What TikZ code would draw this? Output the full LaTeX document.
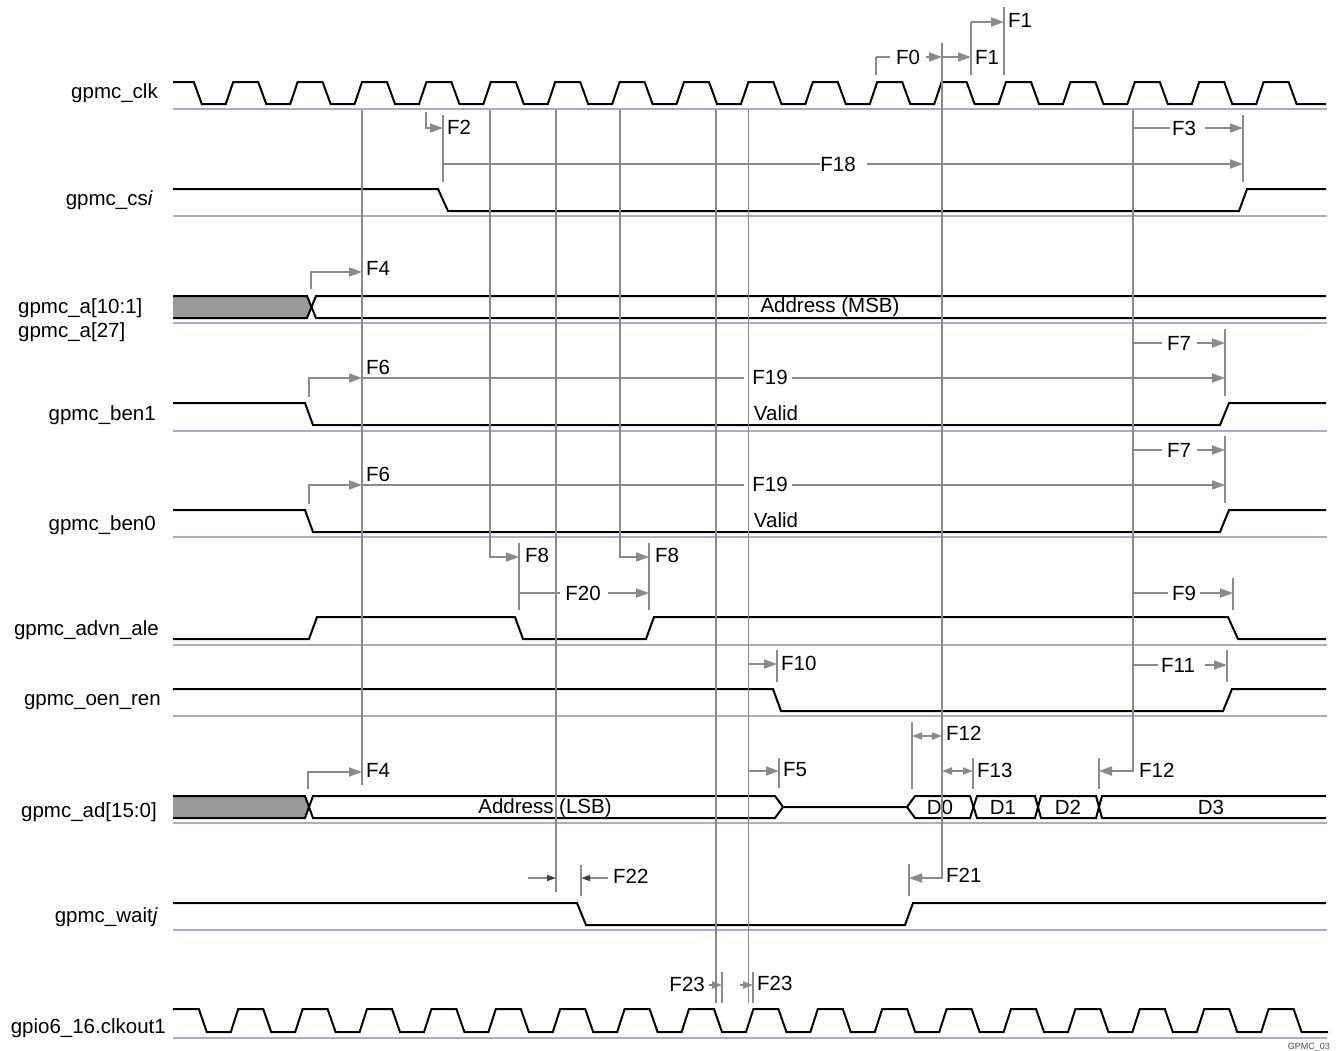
\documentclass[tikz,border=0pt]{standalone}
\usepackage{fontspec}
\setmainfont{Liberation Sans}
\usetikzlibrary{arrows.meta}
\definecolor{anncol}{HTML}{8A8A8A}
\definecolor{gridcol}{HTML}{A9ACC4}
\definecolor{busgray}{HTML}{999999}
\begin{document}
\begin{tikzpicture}[x=1pt,y=-1pt,
  sig/.style={line width=2pt,black},
  gridline/.style={line width=2pt,gridcol},
  ann/.style={line width=1.8pt,anncol},
  arr/.style={-{Triangle[length=13pt,width=9pt]}},
  arrs/.style={-{Triangle[length=10pt,width=7pt]}},
  darr/.style={{Triangle[length=10pt,width=7pt]}-{Triangle[length=10pt,width=7pt]}},
  karr/.style={-{Triangle[length=9pt,width=6pt,color=black!75]}},
  lbl/.style={inner sep=0pt,font=\fontsize{20.5}{24}\selectfont},
  sml/.style={inner sep=0pt,font=\fontsize{9}{10}\selectfont,text=black!70}]
\useasboundingbox (0,0) rectangle (1338,1050);
\fill[white] (0,0) rectangle (1338,1050);

% ---------- baselines ----------
\foreach \y in {109,216,323,431,537,645,716,823,930,1038}
  \draw[gridline] (173,\y) -- (1327,\y);

% ---------- left labels ----------
\node[lbl,anchor=east] (lclk) at (158,93) {gpmc\_clk};
\node[lbl,anchor=east] (lcs) at (153,200) {gpmc\_cs\textit{i}};
\node[lbl,anchor=west] (la1) at (18,308) {gpmc\_a[10:1]};
\node[lbl,anchor=west] (la2) at (18,332) {gpmc\_a[27]};
\node[lbl,anchor=east] (lben1) at (156,415) {gpmc\_ben1};
\node[lbl,anchor=east] (lben0) at (156,525) {gpmc\_ben0};
\node[lbl,anchor=east] (ladv) at (159,630) {gpmc\_advn\_ale};
\node[lbl,anchor=east] (loen) at (161,702) {gpmc\_oen\_ren};
\node[lbl,anchor=east] (lad) at (157,812) {gpmc\_ad[15:0]};
\node[lbl,anchor=east] (lwait) at (158,917) {gpmc\_wait\textit{j}};
\node[lbl,anchor=east] (lclkout) at (166,1028) {gpio6\_16.clkout1};

% ---------- clocks ----------
\draw[sig] (173,82) foreach \k in {-3,...,13}{
  -- ({362+64.4*\k+25},82) -- ({362+64.4*\k+33},104)
  -- ({362+64.4*\k+57},104) -- ({362+64.4*(\k+1)},82) }
  -- (1288.6,82) -- (1296.6,104) -- (1326,104);
\draw[sig] (173,1009) foreach \k in {-3,...,13}{
  -- ({367+64.4*\k+25},1009) -- ({367+64.4*\k+33},1032)
  -- ({367+64.4*\k+57},1032) -- ({367+64.4*(\k+1)},1009) }
  -- (1293.6,1009) -- (1301.6,1032) -- (1328,1032);

% ---------- single signals ----------
\draw[sig] (173,189) -- (438,189) -- (448,211) -- (1239,211) -- (1247,189) -- (1326,189);
\draw[sig] (173,403) -- (305,403) -- (313,425) -- (1220,425) -- (1229,403) -- (1326,403);
\draw[sig] (173,510) -- (305,510) -- (313,532) -- (1220,532) -- (1229,510) -- (1326,510);
\draw[sig] (173,639) -- (309,639) -- (317,617) -- (515,617) -- (523,639) -- (646,639) -- (654,617) -- (1228,617) -- (1238,639) -- (1326,639);
\draw[sig] (173,689) -- (773,689) -- (781,711) -- (1223,711) -- (1232,689) -- (1326,689);
\draw[sig] (173,903) -- (577,903) -- (586,925) -- (905,925) -- (913,903) -- (1326,903);

% ---------- gpmc_a bus ----------
\fill[busgray] (173,296) -- (307,296) -- (311.5,307) -- (307,318) -- (173,318) -- cycle;
\draw[sig] (173,296) -- (307,296) -- (316,318) -- (1326,318);
\draw[sig] (173,318) -- (307,318) -- (316,296) -- (1326,296);
\node[lbl] (amsb) at (830,307) {Address (MSB)};

% ---------- gpmc_ad bus ----------
\fill[busgray] (173,796) -- (305,796) -- (309,807) -- (305,818) -- (173,818) -- cycle;
\draw[sig] (173,796) -- (305,796) -- (313,818) -- (775,818) -- (783,807) -- (907,807)
  -- (915,796) -- (970,796) -- (977,818) -- (1035,818) -- (1041,796) -- (1096,796) -- (1102,818) -- (1326,818);
\draw[sig] (173,818) -- (305,818) -- (313,796) -- (775,796) -- (783,807);
\draw[sig] (907,807) -- (915,818) -- (970,818) -- (977,796) -- (1035,796) -- (1041,818) -- (1096,818) -- (1102,796) -- (1326,796);
\node[lbl] (alsb) at (545,808) {Address (LSB)};
\node[lbl] (d0) at (940,807) {D0};
\node[lbl] (d1) at (1003,807) {D1};
\node[lbl] (d2) at (1068,807) {D2};
\node[lbl] (d3) at (1211,807) {D3};

% ---------- long vertical reference lines ----------
\draw[ann] (362,110) -- (362,785);
\draw[ann,arr] (490,110) -- (490,557) -- (519,557);
\draw[ann] (556,110) -- (556,892);
\draw[ann,arr] (620,110) -- (620,557) -- (649,557);
\draw[ann] (716,110) -- (716,1003);
\draw[ann] (748.5,110) -- (748.5,1003);
\draw[ann,arr] (942,43) -- (942,878) -- (909,878);
\draw[ann,arr] (1133,110) -- (1133,771) -- (1099,771);

% ---------- ticks ----------
\foreach \x/\ya/\yb in {876/57/75, 971/22/75, 1004/7/75, 443/115/182, 1243/115/182,
  1225/329/396, 1225/436/503, 519/543/610, 649/543/610, 1233/578/610,
  777/650/682, 1227/650/682, 912/722/789, 973/758/789, 1099/758/789,
  779/758/788, 581/865/896, 909/864/896, 722/972/1003, 753/972/1003}
  \draw[ann] (\x,\ya) -- (\x,\yb);

% ---------- F0 / F1 ----------
\draw[ann] (876,57) -- (890,57);
\node[lbl] (f0) at (908,57) {F0};
\draw[ann,arr] (926,57) -- (942,57);
\draw[ann,arr] (942,57) -- (971,57);
\node[lbl,anchor=west] (f1a) at (975,57) {F1};
\draw[ann,arr] (971,22) -- (1004,22);
\node[lbl,anchor=west] (f1b) at (1008,20) {F1};

% ---------- F2 / F18 / F3 ----------
\draw[ann,arr] (426,112) -- (426,128) -- (443,128);
\node[lbl,anchor=west] (f2) at (447,127) {F2};
\draw[ann] (443,164) -- (820,164);
\node[lbl] (f18) at (838,164) {F18};
\draw[ann,arr] (867,164) -- (1243,164);
\draw[ann] (1133,128) -- (1170,128);
\node[lbl] (f3) at (1184,128) {F3};
\draw[ann,arr] (1205,128) -- (1243,128);

% ---------- F4 (address MSB) ----------
\draw[ann,arr] (311,289) -- (311,272) -- (362,272);
\node[lbl,anchor=west] (f4a) at (366,268) {F4};

% ---------- ben1 ----------
\draw[ann,arr] (309,397) -- (309,378) -- (362,378);
\node[lbl,anchor=west] (f6a) at (366,367) {F6};
\draw[ann] (362,378) -- (744,378);
\node[lbl] (f19a) at (770,377) {F19};
\draw[ann,arr] (792,378) -- (1225,378);
\draw[ann] (1133,343) -- (1162,343);
\node[lbl] (f7a) at (1179,343) {F7};
\draw[ann,arr] (1197,343) -- (1225,343);
\node[lbl] (valida) at (776,413) {Valid};

% ---------- ben0 ----------
\draw[ann,arr] (309,504) -- (309,485) -- (362,485);
\node[lbl,anchor=west] (f6b) at (366,474) {F6};
\draw[ann] (362,485) -- (744,485);
\node[lbl] (f19b) at (770,484) {F19};
\draw[ann,arr] (792,485) -- (1225,485);
\draw[ann] (1133,450) -- (1162,450);
\node[lbl] (f7b) at (1179,450) {F7};
\draw[ann,arr] (1197,450) -- (1225,450);
\node[lbl] (validb) at (776,520) {Valid};

% ---------- advn_ale ----------
\node[lbl,anchor=west] (f8a) at (525,555) {F8};
\node[lbl,anchor=west] (f8b) at (655,555) {F8};
\draw[ann] (519,593) -- (560,593);
\node[lbl] (f20) at (583,593) {F20};
\draw[ann,arr] (608,593) -- (649,593);
\draw[ann] (1133,593) -- (1168,593);
\node[lbl] (f9) at (1184,593) {F9};
\draw[ann,arr] (1200,593) -- (1233,593);

% ---------- oen_ren ----------
\draw[ann,arr] (748.5,664) -- (777,664);
\node[lbl,anchor=west] (f10) at (781,663) {F10};
\draw[ann] (1133,665) -- (1158,665);
\node[lbl] (f11) at (1178,665) {F11};
\draw[ann,arr] (1205,665) -- (1227,665);

% ---------- ad ----------
\draw[ann,darr] (912,736) -- (942,736);
\node[lbl,anchor=west] (f12a) at (946,733) {F12};
\draw[ann,darr] (942,771) -- (973,771);
\node[lbl,anchor=west] (f13) at (977,770) {F13};
\node[lbl,anchor=west] (f12b) at (1139,770) {F12};
\draw[ann,arr] (308,789) -- (308,772) -- (362,772);
\node[lbl,anchor=west] (f4b) at (366,770) {F4};
\draw[ann,arr] (748.5,771) -- (779,771);
\node[lbl,anchor=west] (f5) at (783,770) {F5};

% ---------- wait ----------
\draw[ann,karr] (528,878) -- (556,878);
\draw[ann,karr] (608,878) -- (581,878);
\node[lbl,anchor=west] (f22) at (613,876) {F22};
\node[lbl,anchor=west] (f21) at (946,875) {F21};

% ---------- F23 ----------
\draw[ann,arrs] (709,985) -- (722,985);
\node[lbl,anchor=east] (f23a) at (705,984) {F23};
\draw[ann,arrs] (740,985) -- (753,985);
\node[lbl,anchor=west] (f23b) at (757,983) {F23};

\node[sml,anchor=east] (tag) at (1330,1047) {GPMC\_03};
\end{tikzpicture}
\end{document}
